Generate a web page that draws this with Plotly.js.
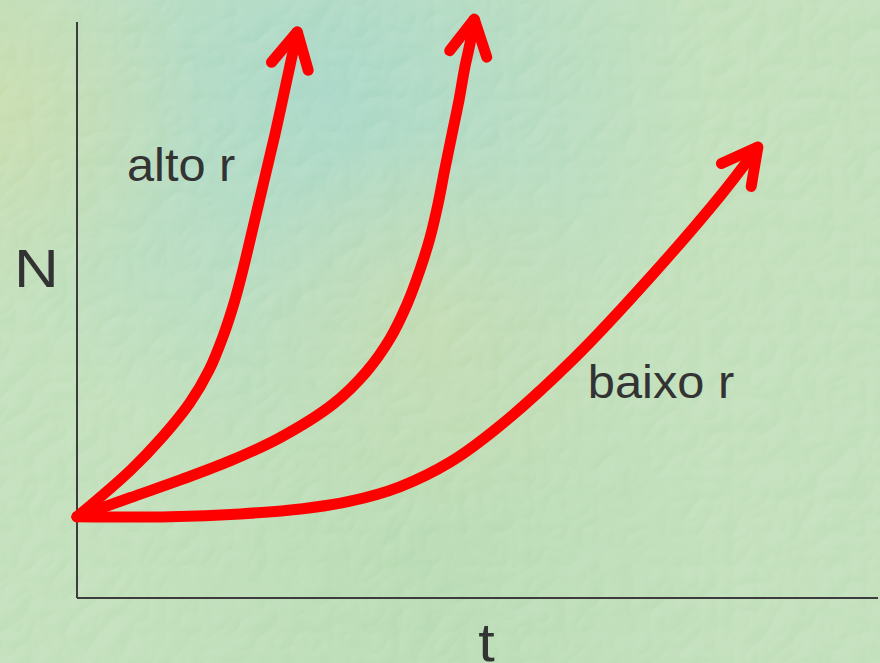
<!DOCTYPE html>
<html>
<head>
<meta charset="utf-8">
<script src="https://cdn.plot.ly/plotly-3.0.1.min.js"></script>
<style>
  html, body { margin: 0; padding: 0; width: 880px; height: 663px; overflow: hidden; }
  #bg { position: absolute; left: 0; top: 0; width: 880px; height: 663px; }
  #chart { position: absolute; left: 0; top: 0; width: 880px; height: 663px; }
  #chart .scatterlayer path.js-line { stroke-linecap: round; }
</style>
</head>
<body>
<svg id="bg" width="880" height="663" xmlns="http://www.w3.org/2000/svg">
  <defs>
    <radialGradient id="blueGlow" cx="330" cy="90" r="380" gradientUnits="userSpaceOnUse">
      <stop offset="0" stop-color="#a8d7c7" stop-opacity="1"/>
      <stop offset="1" stop-color="#a8d7c7" stop-opacity="0"/>
    </radialGradient>
    <radialGradient id="yellowCorner" cx="0" cy="110" r="200" gradientUnits="userSpaceOnUse">
      <stop offset="0" stop-color="#cadcaa" stop-opacity="0.8"/>
      <stop offset="1" stop-color="#cadcaa" stop-opacity="0"/>
    </radialGradient>
    <radialGradient id="warmMid" cx="430" cy="330" r="200" gradientUnits="userSpaceOnUse">
      <stop offset="0" stop-color="#c4dbaf" stop-opacity="0.8"/>
      <stop offset="1" stop-color="#c4dbaf" stop-opacity="0"/>
    </radialGradient>
    <radialGradient id="greenLow" cx="420" cy="560" r="320" gradientUnits="userSpaceOnUse">
      <stop offset="0" stop-color="#b6dab2" stop-opacity="0.9"/>
      <stop offset="1" stop-color="#b6dab2" stop-opacity="0"/>
    </radialGradient>
    <filter id="stone" x="0" y="0" width="100%" height="100%">
      <feTurbulence type="turbulence" baseFrequency="0.03" numOctaves="2" seed="7" result="noise"/>
      <feDiffuseLighting in="noise" surfaceScale="2.5" lighting-color="#ffffff" result="lit">
        <feDistantLight azimuth="225" elevation="55"/>
      </feDiffuseLighting>
      <feColorMatrix in="lit" type="matrix"
        values="0 0 0 0 1
                0 0 0 0 1
                0 0 0 0 1
                1.2 0 0 0 -0.78"/>
    </filter>
  </defs>
  <rect width="880" height="663" fill="#c1dfba"/>
  <rect width="880" height="663" fill="url(#greenLow)"/>
  <rect width="880" height="663" fill="url(#blueGlow)"/>
  <rect width="880" height="663" fill="url(#yellowCorner)"/>
  <rect width="880" height="663" fill="url(#warmMid)"/>
  <rect width="880" height="663" filter="url(#stone)" opacity="0.3"/>
</svg>
<div id="chart"></div>
<script>
// Population size N against time t for three growth rates r.
// t runs 0..10 along the horizontal axis, N runs 0..10 up the vertical one.

const highT = [0, 0.67, 1.07, 1.41, 1.65, 1.82, 1.96, 2.07, 2.27, 2.47, 2.66, 2.75];
const highN = [1.41, 2.22, 2.80, 3.39, 3.96, 4.53, 5.12, 5.69, 6.86, 8.04, 9.25, 9.83];

const midT = [0, 0.66, 1.29, 1.91, 2.53, 3.20, 3.62, 3.91, 4.12, 4.28, 4.41, 4.51, 4.59, 4.68, 4.77, 4.84, 4.91, 4.96];
const midN = [1.41, 1.74, 2.05, 2.38, 2.78, 3.37, 3.94, 4.51, 5.10, 5.69, 6.27, 6.86, 7.43, 8.04, 8.65, 9.20, 9.65, 10.05];

const lowT = [0, 1.16, 2.04, 2.82, 3.41, 4.03, 4.66, 5.28, 6.22, 7.15, 8.03, 8.50];
const lowN = [1.41, 1.41, 1.46, 1.55, 1.68, 1.93, 2.36, 2.99, 4.18, 5.56, 6.98, 7.83];

const labelText = ['alto r', 'baixo r'];
const axisNames = ['t', 'N'];

// Pixel frame of the axes inside the 880x663 figure
const W = 880, H = 663;
const AX = { left: 77, bottom: 598, right: 878, top: 22 };
const T_MAX = 10, N_MAX = 10;
const sx = (AX.right - AX.left) / T_MAX;   // px per t unit
const sy = (AX.bottom - AX.top) / N_MAX;   // px per N unit
const xRange = [-AX.left / sx, (W - AX.left) / sx];
const yRange = [-(H - AX.bottom) / sy, AX.bottom / sy];

const RED = '#ff0000';
const INK = '#333333';
// lettering is set slightly wide: curve labels, then axis letters
const STRETCH = [1.06, 1.06, 1.15, 1.1];

// Open chevron at the end of a curve, oriented along its last segment
function arrowHead(ts, ns, armPx, halfDeg) {
  const n = ts.length;
  const pt = ts[n - 1], pn = ns[n - 1];
  const qt = ts[n - 2], qn = ns[n - 2];
  let dx = (qt - pt) * sx, dy = -(qn - pn) * sy;
  const len = Math.hypot(dx, dy);
  dx /= len; dy /= len;
  const a = halfDeg * Math.PI / 180;
  const arm = (sign) => {
    const c = Math.cos(sign * a), s = Math.sin(sign * a);
    const rx = dx * c - dy * s, ry = dx * s + dy * c;
    return [pt + rx * armPx / sx, pn - ry * armPx / sy];
  };
  const A = arm(1), B = arm(-1);
  return { x: [A[0], pt, B[0]], y: [A[1], pn, B[1]] };
}

const curveStyle = { color: RED, width: 11, shape: 'spline', smoothing: 1 };
const headStyle = { color: RED, width: 11, shape: 'linear' };

const traces = [];
[[highT, highN], [midT, midN], [lowT, lowN]].forEach(([ts, ns]) => {
  traces.push({ x: ts, y: ns, type: 'scatter', mode: 'lines', line: curveStyle, hoverinfo: 'skip' });
  const h = arrowHead(ts, ns, 40, 28);
  traces.push({ x: h.x, y: h.y, type: 'scatter', mode: 'lines', line: headStyle, hoverinfo: 'skip' });
});

const px = (x) => x / W;
const py = (y) => 1 - y / H;

const layout = {
  width: W, height: H,
  margin: { l: 0, r: 0, t: 0, b: 0, pad: 0 },
  paper_bgcolor: 'rgba(0,0,0,0)',
  plot_bgcolor: 'rgba(0,0,0,0)',
  showlegend: false,
  hovermode: false,
  xaxis: { range: xRange, visible: false, fixedrange: true },
  yaxis: { range: yRange, visible: false, fixedrange: true },
  font: { family: 'Liberation Sans, Arial, sans-serif', color: INK },
  shapes: [
    { type: 'line', xref: 'x', yref: 'y', x0: 0, y0: 0, x1: 0, y1: N_MAX, line: { color: '#3c3c3c', width: 2 }, layer: 'below' },
    { type: 'line', xref: 'x', yref: 'y', x0: 0, y0: 0, x1: T_MAX, y1: 0, line: { color: '#3c3c3c', width: 2 }, layer: 'below' }
  ],
  annotations: [
    { text: labelText[0], xref: 'paper', yref: 'paper', x: px(181), y: py(165), xanchor: 'center', yanchor: 'middle', showarrow: false, font: { size: 46, color: INK } },
    { text: labelText[1], xref: 'paper', yref: 'paper', x: px(661), y: py(382), xanchor: 'center', yanchor: 'middle', showarrow: false, font: { size: 46, color: INK } },
    { text: axisNames[1], xref: 'paper', yref: 'paper', x: px(36), y: py(268), xanchor: 'center', yanchor: 'middle', showarrow: false, font: { size: 54, color: INK } },
    { text: axisNames[0], xref: 'paper', yref: 'paper', x: px(486), y: py(642), xanchor: 'center', yanchor: 'middle', showarrow: false, font: { size: 54, color: INK } }
  ]
};

Plotly.newPlot('chart', traces, layout, { staticPlot: true, displayModeBar: false }).then((gd) => {
  // widen the lettering a little, keeping each label centred where it was
  gd.querySelectorAll('text.annotation-text').forEach((t, i) => {
    const w = t.getComputedTextLength();
    t.setAttribute('textLength', (w * (STRETCH[i] || 1)).toFixed(1));
    t.setAttribute('lengthAdjust', 'spacingAndGlyphs');
  });
});
</script>
</body>
</html>
